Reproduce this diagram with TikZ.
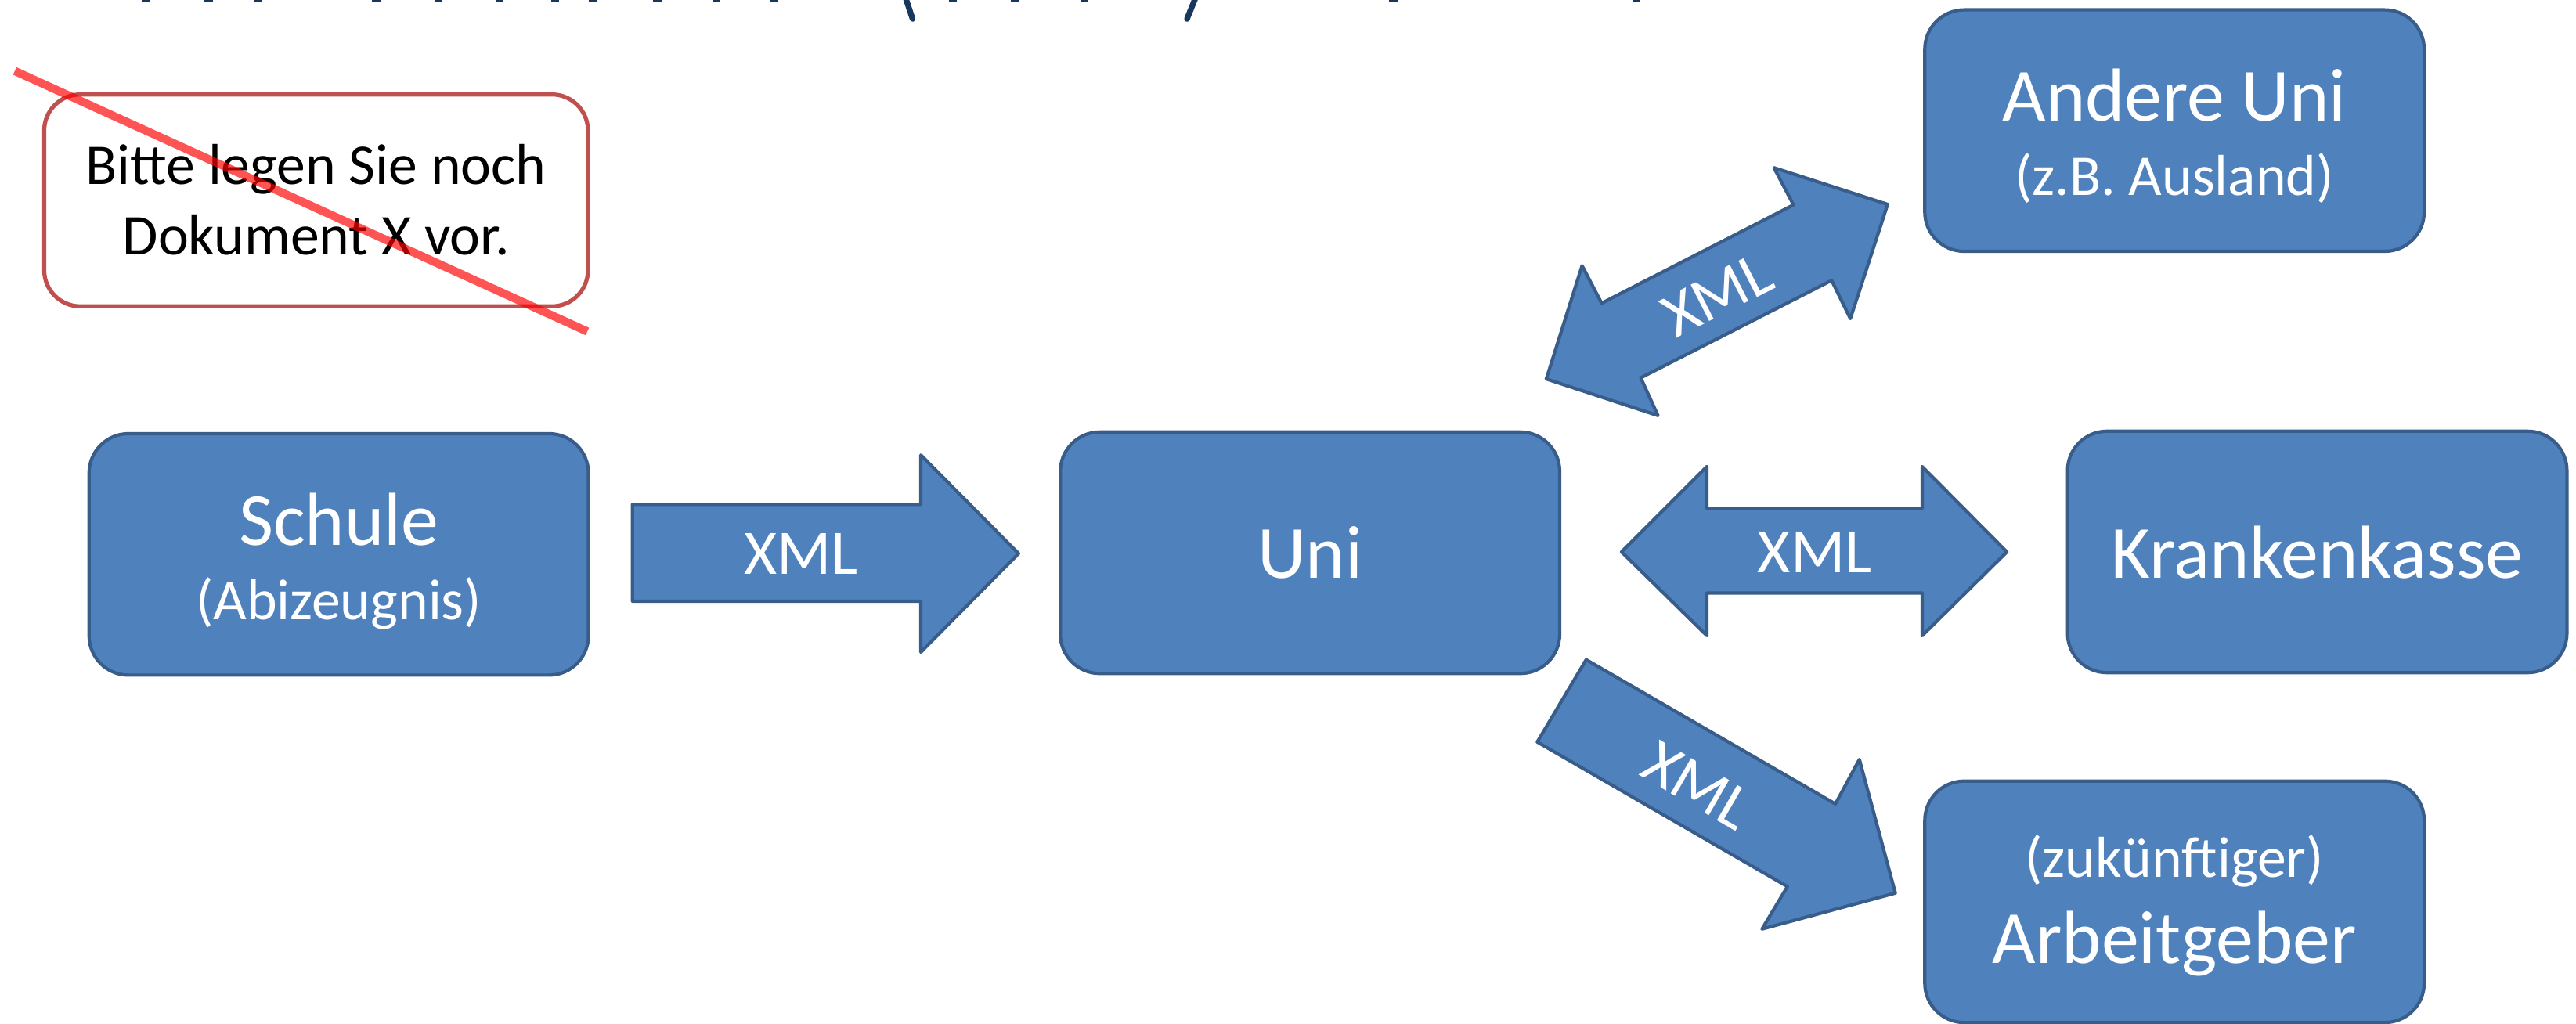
\documentclass[tikz,border=0pt]{standalone}
\usepackage{fontspec}
\setmainfont{Carlito}
\definecolor{boxfill}{RGB}{79,129,189}
\definecolor{boxline}{RGB}{56,93,138}
\definecolor{warnline}{RGB}{192,80,77}
\definecolor{strikered}{RGB}{255,0,0}
\definecolor{titleblue}{RGB}{23,55,94}
\begin{document}
\begin{tikzpicture}[x=0.1mm,y=-0.1mm,
  bluebox/.style={draw=boxline, fill=boxfill, line width=0.2mm, rounded corners=2.4mm,
    minimum width=30.4mm, minimum height=14.7mm, inner sep=0pt},
  warnbox/.style={draw=warnline, fill=white, line width=0.25mm, rounded corners=2.2mm,
    minimum width=33.1mm, minimum height=12.9mm, inner sep=0pt},
  bigtxt/.style={anchor=base, text=white, inner sep=0pt, font=\fontsize{13pt}{15pt}\selectfont},
  smalltxt/.style={anchor=base, text=white, inner sep=0pt, font=\fontsize{10pt}{12pt}\selectfont},
  warntxt/.style={anchor=base, text=black, inner sep=0pt, font=\fontsize{10pt}{12pt}\selectfont},
  xmltxt/.style={text=white, inner sep=0pt, font=\fontsize{11pt}{13pt}\selectfont},
  blockarrow/.style={draw=boxline, fill=boxfill, line width=0.2mm, line join=round},
  strike/.style={draw=strikered, opacity=0.67, line width=0.5mm},
  titlebit/.style={fill=titleblue, draw=none}]
\useasboundingbox (0,0) rectangle (1568,623);

% cut-off title (only the lowest parts of its glyphs are visible)
\foreach \tx in {89,127,157,229,267,304,338,361,400,436,471,580,618,660,848,996}
  \fill[titlebit] (\tx-2.5,0) rectangle (\tx+2.5,1.6);
\draw[titleblue, line width=0.35mm, line cap=round] (551,-2) -- (555.5,11.5);
\draw[titleblue, line width=0.35mm, line cap=round] (728,-2) -- (722.5,11.5);

% warning box
\node[warnbox] (warn) at (192.4,122) {};
\node[warntxt] (warn1) at (192.4,112) {Bitte legen Sie noch};
\node[warntxt] (warn2) at (192.4,155) {Dokument X vor.};
\coordinate (s1) at (9,43.2);
\coordinate (s2) at (357.5,201.8);
\draw[strike] (s1) -- (s2);

% boxes
\node[bluebox] (schule) at (206.2,337.5) {};
\node[bigtxt] (schuleA) at (206.2,332) {Schule};
\node[smalltxt] (schuleB) at (206.2,377.3) {(Abizeugnis)};

\node[bluebox] (uni) at (797.4,336.5) {};
\node[bigtxt] (uniA) at (797.4,352) {Uni};

\node[bluebox] (andere) at (1323.6,79.5) {};
\node[bigtxt] (andereA) at (1323.6,73.4) {Andere Uni};
\node[smalltxt] (andereB) at (1323.6,118.8) {(z.B. Ausland)};

\node[bluebox] (kasse) at (1410.5,336) {};
\node[bigtxt] (kasseA) at (1410.5,352) {Krankenkasse};

\node[bluebox] (arbeit) at (1323.6,549) {};
\node[smalltxt] (arbeitA) at (1323.6,533.8) {(zukünftiger)};
\node[bigtxt] (arbeitB) at (1323.6,586.3) {Arbeitgeber};

% block arrows
\draw[blockarrow] (385,307) -- (560.5,307) -- (560.5,277) -- (620,337) -- (560.5,397)
  -- (560.5,366) -- (385,366) -- cycle;
\node[xmltxt, anchor=base] (xml1) at (487.5,349.8) {XML};

\draw[blockarrow] (987,336) -- (1039,284) -- (1039,309.4) -- (1170,309.4) -- (1170,284)
  -- (1221.6,336) -- (1170,387) -- (1170,361) -- (1039,361) -- (1039,387) -- cycle;
\node[xmltxt, anchor=base] (xml2) at (1104.6,348.7) {XML};

\draw[blockarrow] (941.2,230.7) -- (963,161.7) -- (974.9,184.6) -- (1091.7,124.7)
  -- (1079.8,102.1) -- (1149,124.4) -- (1126.3,194) -- (1114.9,170.7) -- (998.7,230)
  -- (1009.2,253) -- cycle;
\node[xmltxt, rotate=27] (xml3) at (1045.2,179.5) {XML};

\draw[blockarrow] (965.5,401.6) -- (1117.2,489.4) -- (1131.8,462.3) -- (1153.7,543.7)
  -- (1072.5,565.6) -- (1088,539.7) -- (935.7,451.7) -- cycle;
\node[xmltxt, rotate=-30] (xml4) at (1033.3,478.2) {XML};
\end{tikzpicture}
\end{document}
